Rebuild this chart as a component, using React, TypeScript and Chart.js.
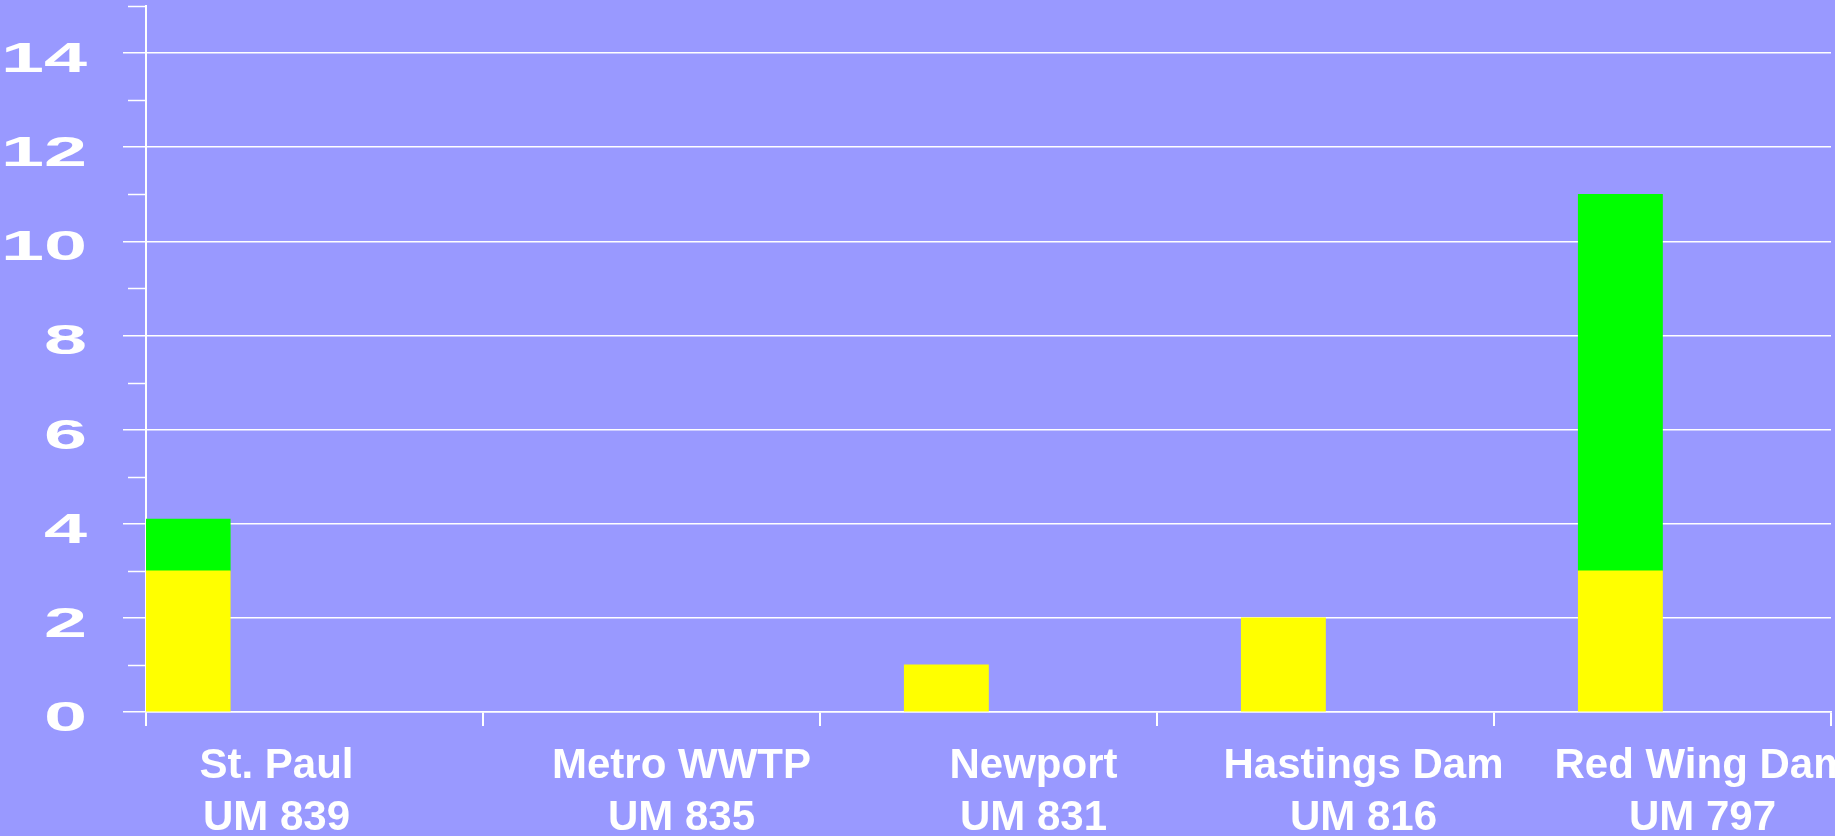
import React, { useEffect, useRef } from "react";
import { Chart, registerables } from "chart.js";

Chart.register(...registerables);

// ---- data ----
const siteNames = ["St. Paul", "Metro WWTP", "Newport", "Hastings Dam", "Red Wing Dam"];
const riverMiles = ["UM 839", "UM 835", "UM 831", "UM 816", "UM 797"];
const yellowValues = [3, null, 1, 2, 3];
const greenValues = [1.1, null, null, null, 8];
const yTickLabels = [0, 2, 4, 6, 8, 10, 12, 14];

// ---- layout / style ----
const barSlot = [0, 1, 1, 1, 1]; // which of the 4 bar slots in a category each bar sits in
const slotCount = 4;
const labelShift = [-38, 30, 45, 38, 40]; // horizontal shift of category labels (px)
const BG = "#9999FF";
const YELLOW = "#FFFF00";
const GREEN = "#00FF00";

const customPlugin = {
  id: "customPlugin",
  beforeDraw(chart: any) {
    const { ctx, width, height } = chart;
    ctx.save();
    ctx.fillStyle = BG;
    ctx.fillRect(0, 0, width, height);
    ctx.restore();
  },
  afterDraw(chart: any) {
    const { ctx, chartArea } = chart;
    const x = chart.scales.x;
    const y = chart.scales.y;
    ctx.save();
    // minor ticks at odd values
    ctx.strokeStyle = "#FFFFFF";
    ctx.lineWidth = 1.5;
    for (let v = 1; v <= 15; v += 2) {
      const py = Math.round(y.getPixelForValue(v)) + 0.5;
      ctx.beginPath();
      ctx.moveTo(chartArea.left - 18, py);
      ctx.lineTo(chartArea.left, py);
      ctx.stroke();
    }
    // y labels (horizontally stretched)
    ctx.fillStyle = "#FFFFFF";
    ctx.font = 'bold 43px "Liberation Sans", Arial, sans-serif';
    ctx.textAlign = "right";
    ctx.textBaseline = "alphabetic";
    yTickLabels.forEach((v) => {
      const py = y.getPixelForValue(v);
      ctx.save();
      ctx.translate(chartArea.left - 59, py + 19);
      ctx.scale(1.8, 1);
      ctx.fillText(String(v), 0, 0);
      ctx.restore();
    });
    // x labels
    ctx.font = 'bold 42px "Liberation Sans", Arial, sans-serif';
    ctx.textAlign = "center";
    siteNames.forEach((name, i) => {
      const cx = x.getPixelForValue(i) + labelShift[i];
      ctx.fillText(name, cx, chartArea.bottom + 66);
      ctx.fillText(riverMiles[i], cx, chartArea.bottom + 118);
    });
    ctx.restore();
  },
};

export default function App() {
  const canvasRef = useRef<HTMLCanvasElement | null>(null);

  useEffect(() => {
    document.body.style.margin = "0";
    document.body.style.background = BG;
    const canvas = canvasRef.current;
    if (!canvas) return;

    const datasets: any[] = [];
    for (let s = 0; s < slotCount; s++) {
      datasets.push({
        label: "yellow" + s,
        data: yellowValues.map((v, i) => (barSlot[i] === s ? v : null)),
        backgroundColor: YELLOW,
        borderWidth: 0,
        stack: "s" + s,
      });
      datasets.push({
        label: "green" + s,
        data: greenValues.map((v, i) => (barSlot[i] === s ? v : null)),
        backgroundColor: GREEN,
        borderWidth: 0,
        stack: "s" + s,
      });
    }

    const chart = new Chart(canvas, {
      type: "bar",
      data: { labels: siteNames, datasets },
      plugins: [customPlugin],
      options: {
        animation: false,
        responsive: false,
        devicePixelRatio: 1,
        layout: { padding: { top: 6, right: 4, left: 0, bottom: 0 } },
        plugins: { legend: { display: false }, tooltip: { enabled: false } },
        datasets: { bar: { categoryPercentage: 1, barPercentage: 1 } },
        scales: {
          x: {
            offset: true,
            ticks: { display: false },
            grid: {
              offset: true,
              drawOnChartArea: false,
              drawTicks: true,
              tickLength: 14,
              color: "#FFFFFF",
              lineWidth: 2,
            },
            border: { display: true, color: "#FFFFFF", width: 1.5 },
            afterFit: (scale: any) => {
              scale.height = 124;
            },
          },
          y: {
            stacked: true,
            min: 0,
            max: 15,
            ticks: { display: false, stepSize: 1 },
            grid: {
              drawTicks: true,
              tickLength: 23,
              lineWidth: 1.5,
              color: (ctx: any) => (ctx.tick && ctx.tick.value % 2 === 0 ? "#FFFFFF" : "rgba(0,0,0,0)"),
              tickColor: (ctx: any) => (ctx.tick && ctx.tick.value % 2 === 0 ? "#FFFFFF" : "rgba(0,0,0,0)"),
            },
            border: { display: true, color: "#FFFFFF", width: 2 },
            afterFit: (scale: any) => {
              scale.width = 146;
            },
          },
        },
      },
    });
    return () => chart.destroy();
  }, []);

  return (
    <div style={{ position: "fixed", left: 0, top: 0, width: 1835, height: 836, background: BG }}>
      <canvas ref={canvasRef} width={1835} height={836} style={{ display: "block" }} />
    </div>
  );
}
